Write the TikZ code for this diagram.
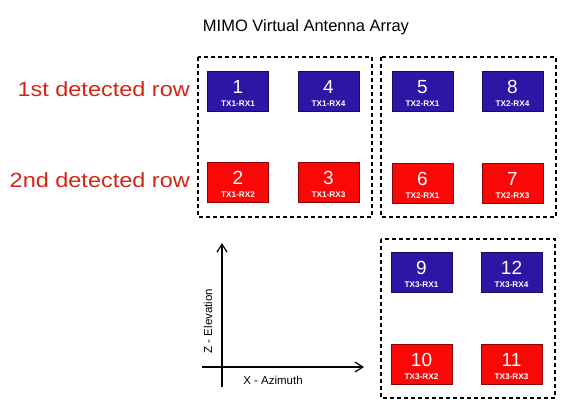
\documentclass[tikz,border=0pt]{standalone}
\usepackage{fontspec}
\setmainfont{Liberation Sans}
\newfontfamily\rowfont[FakeStretch=1.145]{Liberation Sans}
\usetikzlibrary{calc,arrows.meta}
\definecolor{elemblue}{RGB}{43,22,165}
\definecolor{elemred}{RGB}{250,8,8}
\definecolor{rowred}{RGB}{212,36,20}
\def\antelem(#1)(#2,#3)[#4]#5#6{%
	\node[elem, fill=#4, draw=#4!55!black] (#1) at (#2, #3) {};
	\node[numtxt] (#1num) at ($(#1)+(0, 2)$) {#5};
	\node[subtxt] (#1sub) at ($(#1)+(0, 15)$) {#6};}

\begin{document}
\begin{tikzpicture}[x=1pt, y=-1pt,
	elem/.style={rectangle, minimum width=61pt, minimum height=40pt, inner sep=0pt, line width=0.6pt},
	numtxt/.style={anchor=base, text=white, inner sep=0pt, font=\fontsize{19}{19}\selectfont},
	subtxt/.style={anchor=base, text=white, inner sep=0pt, font=\fontsize{8.2}{9}\selectfont\bfseries},
	group/.style={line width=1.1pt, dash pattern=on 4pt off 3pt},
	rowlbl/.style={anchor=base east, text=rowred, inner sep=0pt, font=\rowfont\fontsize{20.5}{21}\selectfont},
	axlbl/.style={inner sep=0pt, font=\fontsize{11.5}{12}\selectfont},
	axis/.style={line width=1.2pt, -{Straight Barb[length=8pt, width=10pt, line width=1.2pt]}}]
			%%%%% START %%%%%
			\useasboundingbox (0, 0) rectangle (564, 413);
			
			\node[font=\fontsize{16.5}{17}\selectfont] (title) at (306, 27) {MIMO\ Virtual Antenna Array};
			
			\node[rowlbl] (row1) at (190, 96) {1st detected row};
			\node[rowlbl] (row2) at (190, 187) {2nd detected row};
			
			\draw[group] (198, 57) rectangle (372, 217);
			\draw[group] (381, 57) rectangle (556, 217);
			\draw[group] (381, 239) rectangle (555, 398);
			
			\antelem(e1)(238, 91)[elemblue]{1}{TX1-RX1}
			\antelem(e4)(328.5, 91)[elemblue]{4}{TX1-RX4}
			\antelem(e2)(238, 182)[elemred]{2}{TX1-RX2}
			\antelem(e3)(328.5, 182)[elemred]{3}{TX1-RX3}
			
			\antelem(e5)(422.5, 91)[elemblue]{5}{TX2-RX1}
			\antelem(e8)(512.5, 91)[elemblue]{8}{TX2-RX4}
			\antelem(e6)(422.5, 183)[elemred]{6}{TX2-RX1}
			\antelem(e7)(512.5, 183)[elemred]{7}{TX2-RX3}
			
			\antelem(e9)(421.5, 272.5)[elemblue]{9}{TX3-RX1}
			\antelem(e12)(511.5, 272.5)[elemblue]{12}{TX3-RX4}
			\antelem(e10)(421.5, 364)[elemred]{10}{TX3-RX2}
			\antelem(e11)(511.5, 364)[elemred]{11}{TX3-RX3}
			
			\coordinate (zlow) at (222, 387);
			\coordinate (ztip) at (222, 243);
			\coordinate (xlow) at (202, 367);
			\coordinate (xtip) at (364, 367);
			\draw[axis] (zlow) -- (ztip);
			\draw[axis] (xlow) -- (xtip);
			
			\node[axlbl, rotate=90] (zlbl) at (208, 321) {Z - Elevation};
			\node[axlbl] (xlbl) at (273, 380) {X - Azimuth};
			
			%%%%% END %%%%%
\end{tikzpicture}
\end{document}
